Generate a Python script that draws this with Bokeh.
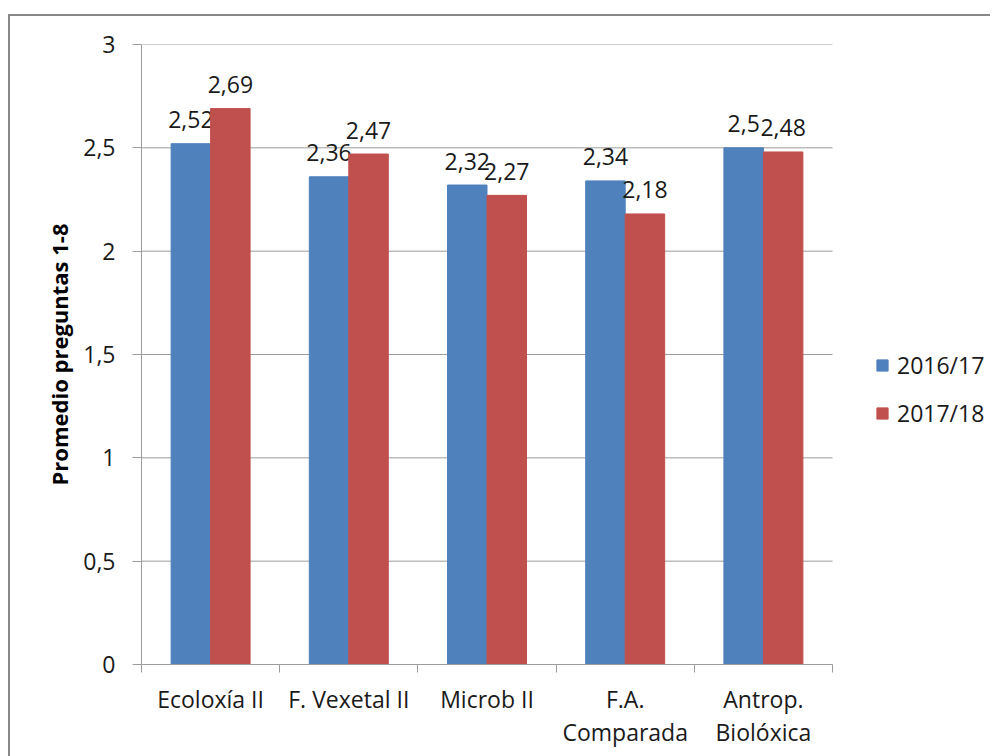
from bokeh.plotting import figure
from bokeh.models import (Range1d, FixedTicker, CustomJSTickFormatter, Legend,
                          LegendItem, ColumnDataSource)
from bokeh.core.properties import value
from bokeh.embed import file_html
from bokeh.resources import INLINE

categories = ["Ecoloxía II", "F. Vexetal II", "Microb II", "F.A.\nComparada", "Antrop.\nBiolóxica"]
series_names = ["2016/17", "2017/18"]
values_2016 = [2.52, 2.36, 2.32, 2.34, 2.50]
values_2017 = [2.69, 2.47, 2.27, 2.18, 2.48]
y_ticks = [0, 0.5, 1, 1.5, 2, 2.5, 3]

colors = ["#4F81BD", "#C0504D"]
FONT = "Open Sans"
GRID = "#9c9c9c"
TXT = "#1a1a1a"

bar_w = 1 / 3.5  # Excel gap width 150%
n = len(categories)
plot_w = 691      # width of the bar area in px
frame_w = 849     # frame incl. legend area on the right

p = figure(output_backend="svg", toolbar_location=None,
           frame_width=frame_w, frame_height=620,
           min_border_left=131, min_border_top=28,
           min_border_right=0, min_border_bottom=92,
           x_range=Range1d(0, n * frame_w / plot_w), y_range=Range1d(0, 3))
p.styles = {"border-left": "2px solid #888888", "border-top": "2px solid #888888",
            "margin-top": "14px", "margin-left": "8px"}
p.outline_line_color = None
p.background_fill_color = "white"
p.border_fill_color = "white"

# horizontal gridlines limited to the bar area
p.ygrid.grid_line_color = None
p.xgrid.grid_line_color = None
p.segment(x0=[0] * len(y_ticks), x1=[n] * len(y_ticks), y0=y_ticks, y1=y_ticks,
          line_color=GRID, line_width=1)

centers = [i + 0.5 for i in range(n)]
renderers = []
for k, (vals, name) in enumerate(zip([values_2016, values_2017], series_names)):
    xs = [c + (k - 0.5) * bar_w for c in centers]
    src = ColumnDataSource(dict(x=xs, top=vals,
                                label=[("%g" % v).replace(".", ",") for v in vals]))
    r = p.vbar(x="x", top="top", bottom=0, width=bar_w, source=src,
               fill_color=colors[k], line_color=colors[k])
    renderers.append(r)
    p.text(x="x", y="top", text="label", source=src, text_align="center",
           text_baseline="alphabetic", y_offset=-24,
           text_font=value(FONT), text_font_size="23px", text_color=TXT)

# y axis
yax = p.yaxis[0]
yax.ticker = FixedTicker(ticks=y_ticks)
yax.formatter = CustomJSTickFormatter(code="return tick.toString().replace('.', ',')")
yax.major_tick_out = 9
yax.major_tick_in = 0
yax.minor_tick_out = 0
yax.minor_tick_in = 0
yax.axis_line_color = GRID
yax.major_tick_line_color = GRID
yax.major_label_standoff = 17
yax.major_label_text_font = FONT
yax.major_label_text_font_size = "23px"
yax.major_label_text_color = TXT
yax.axis_label = "Promedio preguntas 1-8"
yax.axis_label_text_font = FONT
yax.axis_label_text_font_style = "bold"
yax.axis_label_text_font_size = "22px"
yax.axis_label_text_color = "#000000"
yax.axis_label_standoff = 6

# x axis
xax = p.xaxis[0]
xax.bounds = (0, n)
xax.ticker = FixedTicker(ticks=centers, minor_ticks=list(range(n + 1)))
xax.major_label_overrides = {c: cat for c, cat in zip(centers, categories)}
xax.major_tick_out = 0
xax.major_tick_in = 0
xax.minor_tick_out = 8
xax.minor_tick_in = 0
xax.minor_tick_line_color = GRID
xax.axis_line_color = GRID
xax.major_label_standoff = 10
xax.major_label_text_font = FONT
xax.major_label_text_font_size = "23px"
xax.major_label_text_color = TXT
xax.major_label_text_line_height = 1.05

legend = Legend(items=[LegendItem(label=s, renderers=[r]) for s, r in zip(series_names, renderers)],
                location=(734, 235), padding=0, margin=0, spacing=16,
                glyph_width=14, glyph_height=14, label_standoff=8,
                label_text_font=FONT, label_text_font_size="23px",
                label_text_color=TXT, border_line_color=None,
                background_fill_alpha=0)
p.add_layout(legend, "center")

open("out.html", "w").write(file_html(p, INLINE))
